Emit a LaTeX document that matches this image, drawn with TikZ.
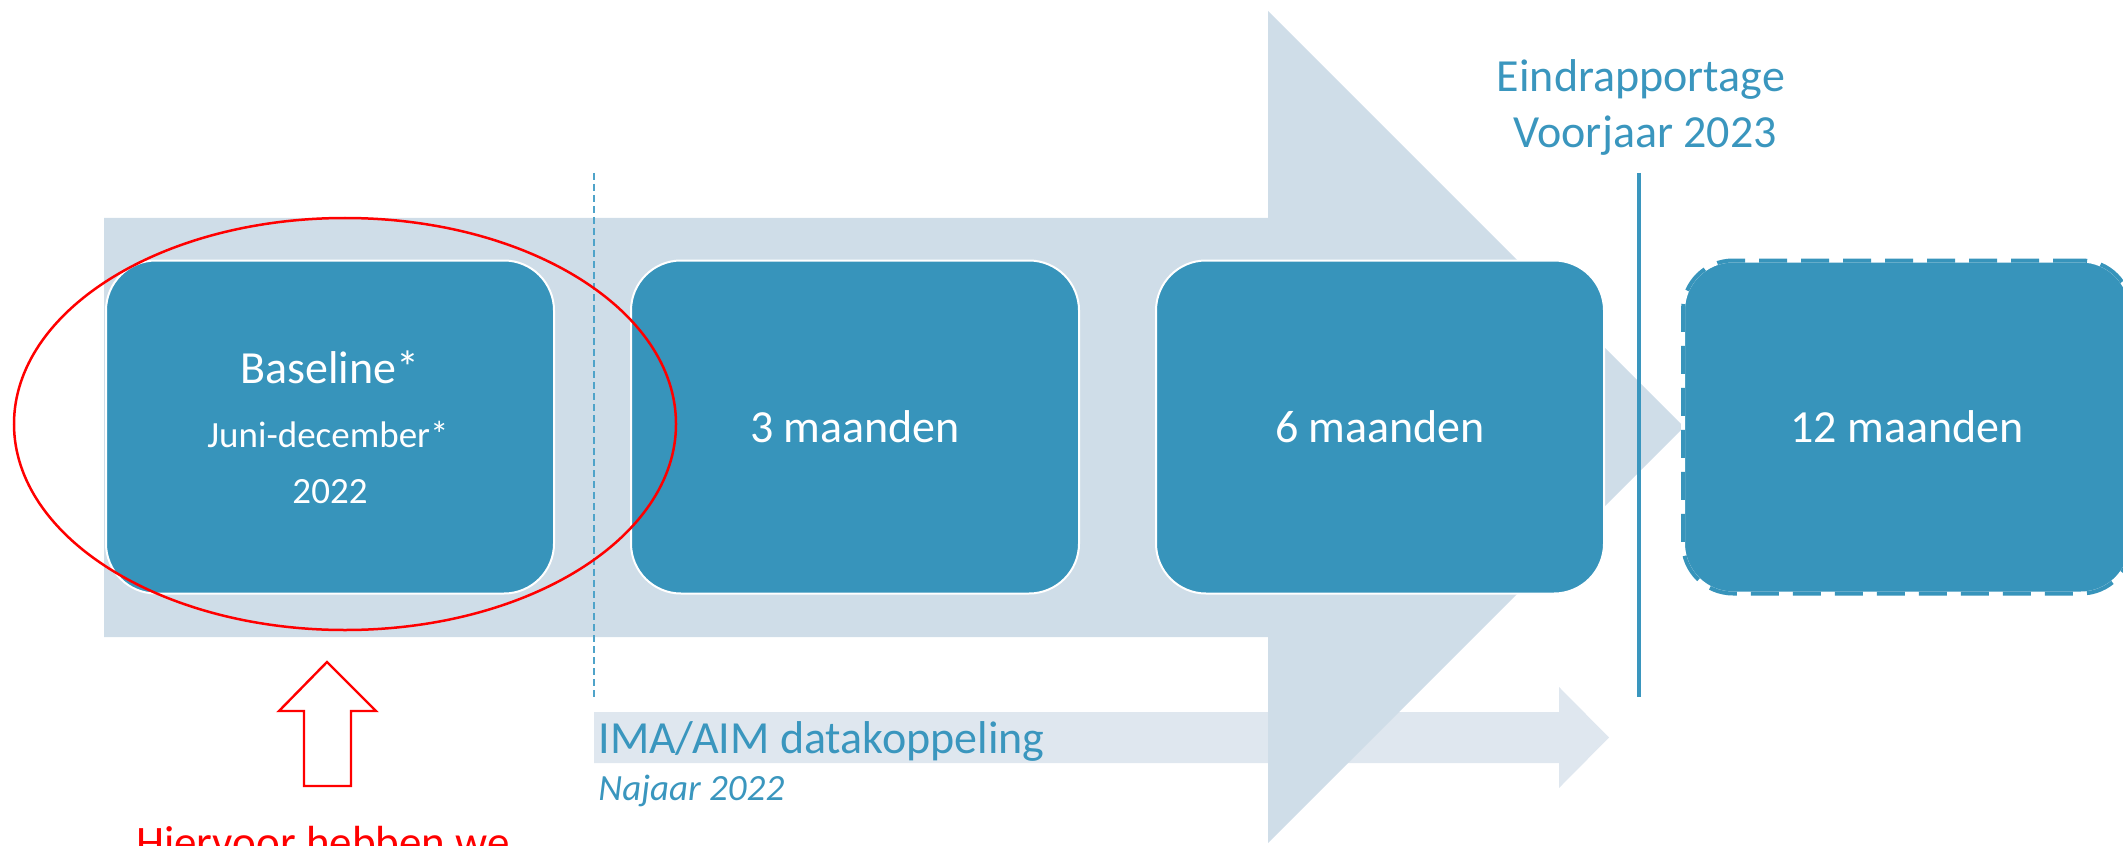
\documentclass[tikz,border=0pt]{standalone}
\usepackage{fontspec}
\setmainfont{Carlito}
\usepackage{tikz}
\definecolor{arrowgrey}{HTML}{CFDDE8}
\definecolor{imagrey}{HTML}{DFE7EF}
\definecolor{boxblue}{HTML}{3794BB}
\definecolor{textblue}{HTML}{3A96BE}
\definecolor{dashblue}{HTML}{4FA3C9}

\begin{document}
\begin{tikzpicture}[x=0.5pt, y=-0.5pt,
  phase/.style={shape=rectangle, rounded corners=25pt, fill=boxblue, draw=white, line width=1pt, minimum width=224pt, minimum height=166.5pt, inner sep=0, text=white, font=\fontsize{23}{28}\selectfont},
  phaselast/.style={phase, line width=2pt, postaction={draw=boxblue, dash pattern=on 14pt off 7pt}},
  boxtext/.style={anchor=base, inner sep=0, text=white},
  bluetext/.style={anchor=base, inner sep=0, text=textblue, font=\fontsize{23}{28}\selectfont}]
				\useasboundingbox (0,0) rectangle (2123,845);
				\clip (0,0) rectangle (2123,845);
				\fill[imagrey] (594,712) -- (1559,712) -- (1559,687) -- (1609,737.5) -- (1559,788) -- (1559,763) -- (594,763) -- cycle;
				\fill[arrowgrey] (104,218) -- (1268,218) -- (1268,11) -- (1684,427) -- (1268,843) -- (1268,637) -- (104,637) -- cycle;
				\coordinate (dashtop) at (594,173);
				\coordinate (dashbot) at (594,697);
				\draw[dashblue, line width=1pt, dash pattern=on 3.5pt off 2pt] (dashtop) -- (dashbot);
				\node[phase] (base) at (330,427) {};
				\node[phase] (three) at (855,427) {3 maanden};
				\node[phase] (six) at (1380,427) {6 maanden};
				\node[phaselast] (twelve) at (1907,427) {12 maanden};
				\coordinate (endtop) at (1639,173);
				\coordinate (endbot) at (1639,697);
				\draw[textblue, line width=2pt] (endtop) -- (endbot);
				\draw[red, line width=1.25pt] (345,424) ellipse [x radius=165.5pt, y radius=103pt];
				\draw[red, line width=1.2pt] (327,662) -- (376,711) -- (351,711) -- (351,786) -- (304,786) -- (304,711) -- (279,711) -- cycle;
				\node[boxtext, font=\fontsize{23}{28}\selectfont] (basetitle) at (330,383) {Baseline*};
				\node[boxtext, font=\fontsize{18.5}{22}\selectfont] (baseperiod) at (328,447) {Juni-december*};
				\node[boxtext, font=\fontsize{18.5}{22}\selectfont] (baseyear) at (330,503) {2022};
				\node[bluetext] (eind) at (1641,92) {Eindrapportage};
				\node[bluetext] (voorjaar) at (1645,148) {Voorjaar 2023};
				\node[bluetext, anchor=base west] (ima) at (598,753) {IMA/AIM datakoppeling};
				\node[bluetext, anchor=base west, font=\fontsize{18.5}{22}\selectfont\itshape] (najaar) at (598,800) {Najaar 2022};
				\node[anchor=base, inner sep=0, text=red, font=\fontsize{22.5}{27}\selectfont] (hiervoor) at (323,857) {Hiervoor hebben we};
			\end{tikzpicture}
\end{document}
